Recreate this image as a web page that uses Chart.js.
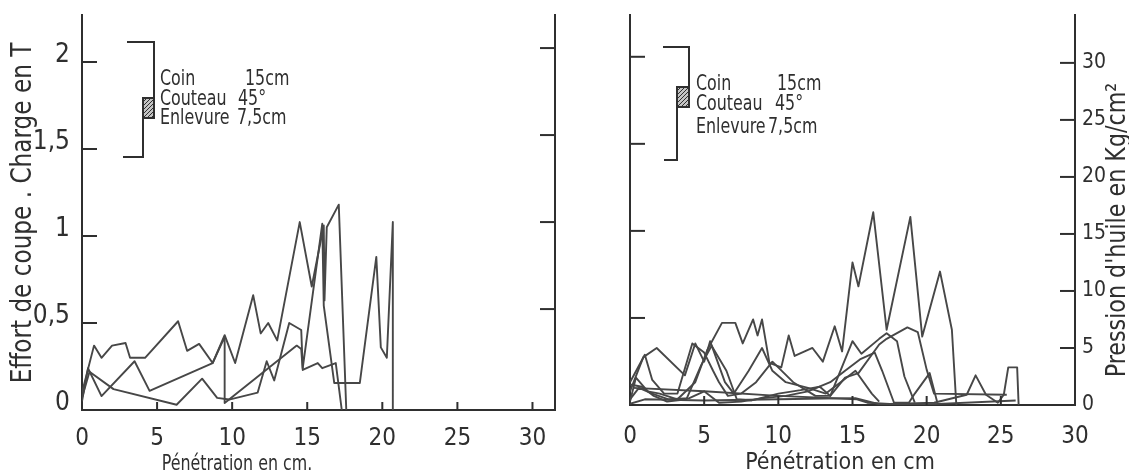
<!DOCTYPE html>
<html>
<head>
<meta charset="utf-8">
<script src="https://cdn.jsdelivr.net/npm/chart.js@4"></script>
<style>
  body { margin: 0; background: #fff; }
  #wrap { position: relative; width: 1129px; height: 475px; }
  canvas { position: absolute; top: 0; }
  #charge { left: 0; }
  #pression { left: 580px; }
</style>
</head>
<body>
<div id="wrap">
  <canvas id="charge" width="580" height="475"></canvas>
  <canvas id="pression" width="549" height="475"></canvas>
</div>
<script>
const INK = "#2f2f2f";
const TRACE = "#474747";
const FONT = "'DejaVu Sans Condensed', 'Liberation Sans', sans-serif";

// axis ticks
const penetrationTicks = [0, 5, 10, 15, 20, 25, 30];
const chargeTicks = [0, 0.5, 1, 1.5, 2];
const chargeMarks = [0.5, 1, 1.5, 2];
const pressureTicks = [0, 5, 10, 15, 20, 25, 30];

const keyRows = [["Coin", "15cm"], ["Couteau", "45°"], ["Enlevure", "7,5cm"]];

// effort de coupe : [penetration cm, charge T]
const chargeRun1 = [[0,0.1],[0.8,0.37],[1.3,0.3],[2,0.37],[2.9,0.385],[3.2,0.3],[4.2,0.3],[6.4,0.51],[7,0.34],[7.8,0.38],[8.7,0.27],[9.5,0.43],[10.2,0.27],[11.4,0.66],[11.9,0.44],[12.4,0.5],[13,0.4],[14.5,1.08],[15.3,0.71],[16.1,1.06],[16.15,0.63],[16.3,1.05],[17.1,1.18],[17.6,0]];
const chargeRun2 = [[0,0.05],[0.4,0.24],[1.3,0.08],[3.5,0.28],[4.5,0.11],[8.7,0.27],[9.5,0.42],[9.5,0.04],[14.3,0.37],[14.6,0.35],[14.7,0.23],[15.7,0.27],[16.0,0.24],[16.9,0.27],[17.3,0]];
const chargeRun3 = [[0,0.07],[0.5,0.22],[2.1,0.12],[6.3,0.03],[8.0,0.18],[9.0,0.07],[9.8,0.06],[11.7,0.1],[12.3,0.28],[12.8,0.17],[13.8,0.5],[14.6,0.46],[14.7,0.24],[16.0,1.07],[16.1,0.6],[16.8,0.155],[18.5,0.155],[19.6,0.88],[19.9,0.36],[20.3,0.3],[20.7,1.08],[20.7,0]];

// pression d'huile : [penetration cm, kg/cm2]
const pressRun1 = [[0,0.3],[0.4,2.4],[1.2,1.2],[2.0,1.0],[3.2,0.5],[4.4,2.0],[5.2,4.8],[6.2,7.2],[7.1,7.2],[7.6,5.4],[8.3,7.5],[8.6,6.1],[8.9,7.5],[9.4,3.7],[10.2,3.3],[10.7,6.1],[11.1,4.3],[12.3,5.0],[13.0,3.8],[13.8,6.9],[14.3,4.7],[15.0,12.5],[15.4,10.4],[16.4,16.9],[17.3,6.6],[18.9,16.5],[19.7,6.0],[20.9,11.7],[21.7,6.6],[22.0,0]];
const pressRun2 = [[0,2.0],[0.5,3.2],[1.0,4.4],[1.5,2.2],[2.3,1.0],[3.2,1.0],[4.2,5.4],[5.0,4.6],[5.6,3.0],[6.0,2.0],[6.6,0.8],[7.5,1.0],[8.5,2.0],[9.6,3.8],[11.0,2.0],[12.5,0.8],[13.5,0.8],[15.0,5.6],[15.6,4.5],[16.8,5.8],[17.3,6.3],[18.0,5.6],[18.5,2.5],[19.2,0.2]];
const pressRun3 = [[0,1.2],[0.9,4.2],[1.8,5.0],[3.7,2.6],[4.4,5.4],[5.0,3.8],[5.4,5.6],[6.4,2.0],[7.0,1.0],[8.0,3.0],[8.9,5.0],[9.6,3.0],[10.5,2.0],[12.0,1.5],[13.2,1.0],[14.2,2.0],[15.2,3.0],[16.3,1.0],[16.8,0.3]];
const pressRun4 = [[0,1.8],[0.8,1.6],[1.6,0.8],[2.5,0.3],[3.8,0.5],[4.8,3.5],[5.5,5.2],[6.5,3.0],[7.2,0.5],[8.2,0.4],[10.0,1.0],[11.5,1.3],[12.8,1.6],[13.5,0.8],[14.5,2.4],[15.4,2.8],[16.8,5.3],[17.3,5.8],[18.7,6.8],[19.4,6.4],[20.0,3.1],[20.5,1.0],[25.4,0.9]];
const pressRun5 = [[0,0.5],[0.6,1.5],[1.5,1.0],[2.6,0.5],[4.0,0.6],[5.0,1.2],[6.0,0.2],[7.5,0.3],[9.0,0.6],[10.5,0.8],[12.0,1.2],[13.5,2.0],[14.5,3.0],[15.5,4.0],[16.5,4.6],[17.0,3.0],[17.8,0.2],[18.8,0.2],[19.2,1.0],[20.2,2.8],[20.7,0.3]];
const pressRun6 = [[0.2,1.5],[5,1.2],[10,0.8],[15.3,0.5],[16,0.2],[17.5,0.1],[20.5,0.2],[22.7,0.9],[23.3,2.6],[24,0.9],[24.8,0.2],[25.2,0.9],[25.5,3.3],[26.1,3.3],[26.2,0]];
const pressRun7 = [[0,0.1],[1,0.5],[5,0.4],[10,0.5],[15.2,0.6],[17,0.0],[20,0.05],[26,0.4]];

Chart.defaults.font.family = FONT;
Chart.defaults.color = INK;

const comma = (v) => String(v).replace(".", ",");
const fixTicks = (list) => (scale) => { scale.ticks = list.map((v) => ({ value: v })); };
// fixed axis box, no extra room for overhanging labels
const fixSize = (size) => (scale) => {
  if (scale.isHorizontal()) scale.height = size; else scale.width = size;
  scale.paddingTop = scale.paddingBottom = scale.paddingLeft = scale.paddingRight = 0;
};

function run(points) {
  return {
    data: points.map(([x, y]) => ({ x, y })),
    showLine: true,
    borderColor: TRACE,
    borderWidth: 1.9,
    borderJoinStyle: "round",
    pointRadius: 0,
    tension: 0,
  };
}

// short tick marks pointing into the plot
const innerTicks = {
  id: "innerTicks",
  afterDraw(chart, args, opts) {
    const ctx = chart.ctx;
    ctx.save();
    ctx.strokeStyle = INK;
    ctx.lineWidth = 2;
    Object.entries(opts.lengths || {}).forEach(([id, len]) => {
      const scale = chart.scales[id];
      scale.ticks.forEach((t) => {
        if (t.value === 0) return;
        const p = scale.getPixelForValue(t.value);
        ctx.beginPath();
        if (scale.isHorizontal()) {
          ctx.moveTo(p, scale.top);
          ctx.lineTo(p, scale.top - len);
        } else if (scale.position === "left") {
          ctx.moveTo(scale.right, p);
          ctx.lineTo(scale.right + len, p);
        } else {
          ctx.moveTo(scale.left, p);
          ctx.lineTo(scale.left - len, p);
        }
        ctx.stroke();
      });
    });
    ctx.restore();
  },
};

// narrow lettering: squeeze along the writing direction
function letter(ctx, text, x, y, size, squeeze, align) {
  ctx.save();
  ctx.translate(x, y);
  ctx.scale(squeeze, 1);
  ctx.font = `${size}px ${FONT}`;
  ctx.textAlign = align;
  ctx.fillText(text, 0, 0);
  ctx.restore();
}

// bracket key with the hatched blade
function drawKey(ctx, k) {
  ctx.lineWidth = 2;
  ctx.strokeStyle = INK;
  ctx.beginPath();
  ctx.moveTo(k.x, k.y);
  ctx.lineTo(k.x + k.w, k.y);
  ctx.lineTo(k.x + k.w, k.y + k.drop);
  ctx.stroke();

  const bx = k.x + k.w - k.boxW;
  const by = k.y + k.drop;
  ctx.fillStyle = "#c4c4c4";
  ctx.fillRect(bx, by, k.boxW, k.boxH);
  ctx.save();
  ctx.beginPath();
  ctx.rect(bx, by, k.boxW, k.boxH);
  ctx.clip();
  ctx.lineWidth = 1;
  for (let i = -k.boxW; i < k.boxH; i += 4) {
    ctx.beginPath();
    ctx.moveTo(bx, by + i + k.boxW);
    ctx.lineTo(bx + k.boxW, by + i);
    ctx.stroke();
  }
  ctx.restore();
  ctx.strokeRect(bx, by, k.boxW, k.boxH);

  ctx.beginPath();
  ctx.moveTo(bx, by + k.boxH);
  ctx.lineTo(bx, k.y + k.foot);
  ctx.lineTo(k.x + k.tail, k.y + k.foot);
  ctx.stroke();

  ctx.fillStyle = INK;
  ctx.textBaseline = "alphabetic";
  keyRows.forEach(([name, value], i) => {
    letter(ctx, name, k.x + k.textX, k.y + k.rows[i], k.size, 0.84, "left");
    letter(ctx, value, k.x + k.valueX[i], k.y + k.rows[i], k.size, 0.84, "left");
  });
}

const sketchText = {
  id: "sketchText",
  afterDraw(chart, args, opts) {
    const ctx = chart.ctx;
    ctx.save();
    ctx.fillStyle = INK;
    ctx.textBaseline = "middle";
    (opts.titles || []).forEach((t) => {
      ctx.save();
      ctx.translate(t.x, t.y);
      ctx.rotate(t.angle || 0);
      letter(ctx, t.text, 0, 0, t.size, t.squeeze || 1, "center");
      ctx.restore();
    });
    if (opts.key) drawKey(ctx, opts.key);
    ctx.restore();
  },
};

const axisLine = { display: true, color: INK, width: 2 };
const noGrid = { drawOnChartArea: false, drawTicks: false };

// left panel: cutting force
new Chart(document.getElementById("charge"), {
  type: "scatter",
  data: { datasets: [run(chargeRun1), run(chargeRun2), run(chargeRun3)] },
  options: {
    responsive: false,
    animation: false,
    events: [],
    layout: { padding: { top: 15, right: 25, left: 0, bottom: 0 } },
    scales: {
      x: {
        type: "linear", min: 0, max: 31.5,
        border: axisLine, grid: noGrid,
        afterBuildTicks: fixTicks(penetrationTicks),
        afterFit: fixSize(65),
        ticks: { padding: 14, maxRotation: 0, autoSkip: false, font: { size: 24 } },
      },
      y: {
        type: "linear", position: "left", min: 0, max: 2.27,
        border: axisLine, grid: noGrid,
        afterBuildTicks: fixTicks(chargeTicks),
        afterFit: fixSize(82),
        ticks: { padding: 12, labelOffset: -7, callback: comma, font: { size: 26 } },
      },
      y1: {
        type: "linear", position: "right", min: -0.08, max: 2.19,
        border: axisLine, grid: noGrid,
        afterBuildTicks: fixTicks(chargeMarks),
        afterFit: fixSize(0),
        ticks: { display: false },
      },
    },
    plugins: {
      legend: { display: false },
      tooltip: { enabled: false },
      innerTicks: { lengths: { x: 8, y: 15, y1: 15 } },
      sketchText: {
        titles: [
          { text: "Effort de coupe . Charge en T", x: 24, y: 213, angle: -Math.PI / 2, size: 28, squeeze: 0.92 },
          { text: "Pénétration en cm.", x: 237, y: 465, size: 21, squeeze: 0.84 },
        ],
        key: { x: 127, y: 42, w: 27, drop: 56, boxW: 11, boxH: 20, foot: 115, tail: -4,
               size: 21, textX: 33, rows: [43, 63, 82], valueX: [118, 111, 110] },
      },
    },
  },
  plugins: [innerTicks, sketchText],
});

// right panel: oil pressure
new Chart(document.getElementById("pression"), {
  type: "scatter",
  data: {
    datasets: [pressRun1, pressRun2, pressRun3, pressRun4, pressRun5, pressRun6, pressRun7]
      .map((r) => ({ ...run(r), yAxisID: "y" })),
  },
  options: {
    responsive: false,
    animation: false,
    events: [],
    layout: { padding: { top: 15, right: 0, left: 0, bottom: 0 } },
    scales: {
      x: {
        type: "linear", min: 0, max: 30,
        border: axisLine, grid: noGrid,
        afterBuildTicks: fixTicks(penetrationTicks),
        afterFit: fixSize(70),
        ticks: { padding: 17, maxRotation: 0, autoSkip: false, font: { size: 24 } },
      },
      y1: {
        type: "linear", position: "left", min: 0, max: 2.24,
        border: axisLine, grid: noGrid,
        afterBuildTicks: fixTicks(chargeMarks),
        afterFit: fixSize(50),
        ticks: { display: false },
      },
      y: {
        type: "linear", position: "right", min: 0, max: 34.2,
        border: axisLine, grid: noGrid,
        afterBuildTicks: fixTicks(pressureTicks),
        afterFit: fixSize(54),
        ticks: { padding: 7, font: { size: 21 } },
      },
    },
    plugins: {
      legend: { display: false },
      tooltip: { enabled: false },
      innerTicks: { lengths: { x: 9, y1: 15, y: 15 } },
      sketchText: {
        titles: [
          { text: "Pénétration en cm", x: 260, y: 463, size: 23 },
          { text: "Pression d'huile en Kg/cm²", x: 538, y: 230, angle: -Math.PI / 2, size: 26, squeeze: 0.95 },
        ],
        key: { x: 83, y: 47, w: 26, drop: 40, boxW: 12, boxH: 20, foot: 113, tail: 1,
               size: 21, textX: 33, rows: [43, 63, 86], valueX: [114, 112, 105] },
      },
    },
  },
  plugins: [innerTicks, sketchText],
});
</script>
</body>
</html>
